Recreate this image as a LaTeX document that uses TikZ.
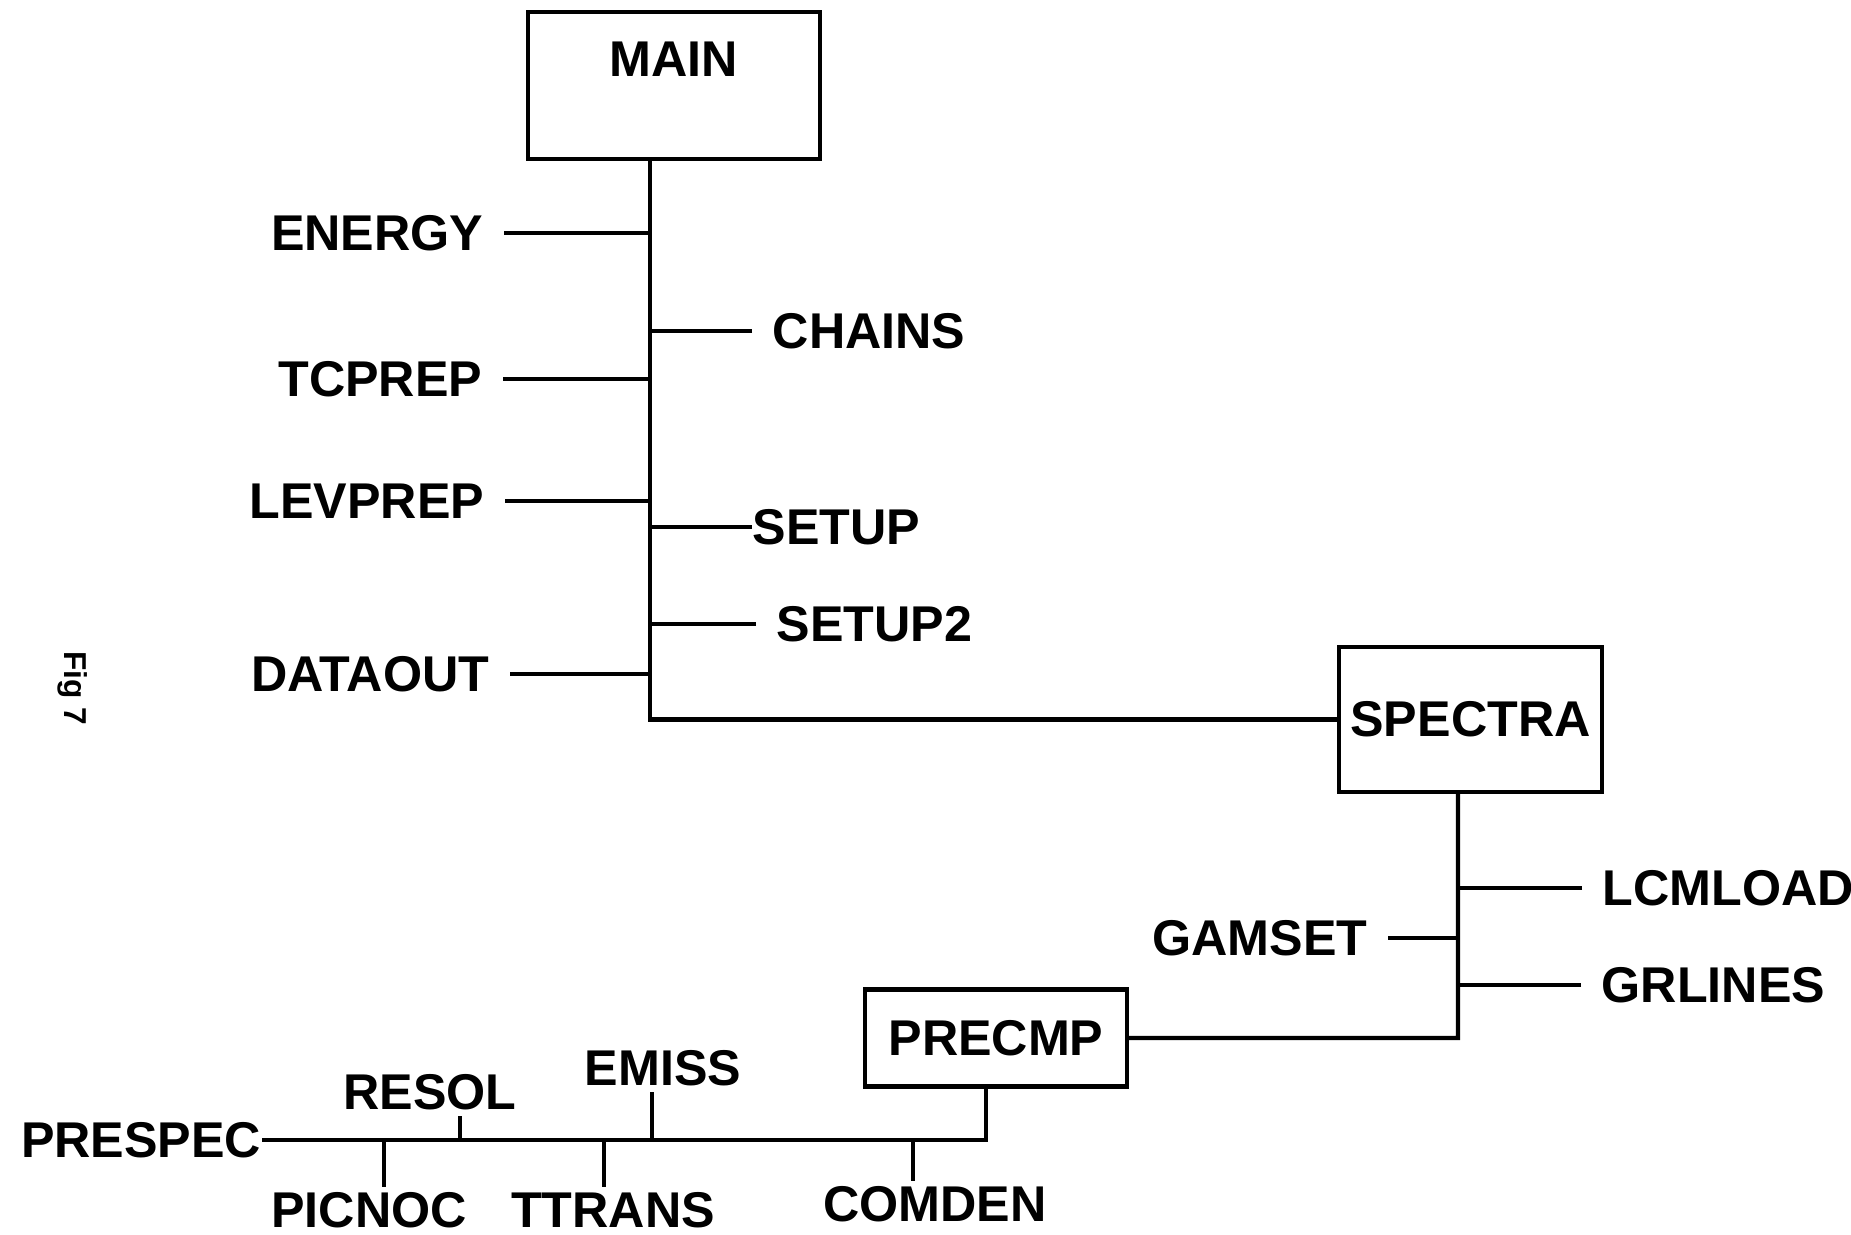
\documentclass[tikz,border=0pt]{standalone}
\usepackage{fontspec}
\setmainfont{Liberation Sans}
\usetikzlibrary{positioning, calc}

\begin{document}
\begin{tikzpicture}[
  routine/.style={rectangle, draw=black, line width=1.2pt, align=center, font=\fontsize{14.3}{16}\selectfont\bfseries},
  sub/.style={inner xsep=2mm, inner ysep=0.5mm, font=\fontsize{14.3}{16}\selectfont\bfseries},
  link/.style={line width=1.2pt}
]
  \useasboundingbox (0,0) rectangle (18.51,-12.34);

  \node[routine, minimum width=2.92cm, minimum height=1.47cm, text depth=0.52cm] (main) at (6.74,-0.855) {MAIN};
  \node[routine, minimum width=2.61cm, minimum height=1.45cm] (spectra) at (14.705,-7.195) {SPECTRA};
  \node[routine, minimum width=2.62cm, minimum height=0.97cm] (precmp) at (9.96,-10.38) {PRECMP};

  \coordinate (mtop) at ($(main.south)+(-0.24,0)$);
  \coordinate (jE) at (6.50,-2.33);
  \coordinate (jC) at (6.50,-3.31);
  \coordinate (jT) at (6.50,-3.79);
  \coordinate (jL) at (6.50,-5.01);
  \coordinate (jS) at (6.50,-5.27);
  \coordinate (jS2) at (6.50,-6.24);
  \coordinate (jD) at (6.50,-6.74);
  \coordinate (jB) at (6.50,-7.195);

  \node[sub, left=1.46cm of jE] (energy) {ENERGY};
  \node[sub, right=1.02cm of jC] (chains) {CHAINS};
  \node[sub, left=1.47cm of jT] (tcprep) {TCPREP};
  \node[sub, left=1.45cm of jL] (levprep) {LEVPREP};
  \node[sub, inner xsep=0pt, right=1.02cm of jS] (setup) {SETUP};
  \node[sub, right=1.06cm of jS2] (setup2) {SETUP2};
  \node[sub, left=1.40cm of jD] (dataout) {DATAOUT};

  \coordinate (stop) at ($(spectra.south)+(-0.125,0)$);
  \coordinate (kL) at (14.58,-8.88);
  \coordinate (kG) at (14.58,-9.38);
  \coordinate (kR) at (14.58,-9.85);
  \coordinate (kP) at (14.58,-10.38);

  \node[sub, right=1.24cm of kL] (lcmload) {LCMLOAD};
  \node[sub, left=0.70cm of kG] (gamset) {GAMSET};
  \node[sub, right=1.23cm of kR] (grlines) {GRLINES};

  \coordinate (ptop) at ($(precmp.south)+(-0.10,0)$);
  \coordinate (bQ) at (9.86,-11.40);
  \coordinate (bR) at (4.60,-11.40);
  \coordinate (bE) at (6.52,-11.40);
  \coordinate (bP) at (3.84,-11.40);
  \coordinate (bT) at (6.04,-11.40);
  \coordinate (bC) at (9.13,-11.40);

  \node[sub, inner xsep=0pt, anchor=east] (prespec) at (2.62,-11.40) {PRESPEC};
  \node[sub] (resol) at (4.30,-10.92) {RESOL};
  \node[sub] (emiss) at (6.63,-10.68) {EMISS};
  \node[sub] (picnoc) at (3.69,-12.10) {PICNOC};
  \node[sub] (ttrans) at (6.13,-12.10) {TTRANS};
  \node[sub] (comden) at (9.35,-12.04) {COMDEN};

  \node[rotate=-90, font=\fontsize{9}{10}\selectfont\bfseries] (fig) at (0.73,-6.88) {Fig 7};

  \draw[link] (mtop) -- (jB) -- (spectra.west);
  \draw[link] (energy.east) -- (jE);
  \draw[link] (chains.west) -- (jC);
  \draw[link] (tcprep.east) -- (jT);
  \draw[link] (levprep.east) -- (jL);
  \draw[link] (setup.west) -- (jS);
  \draw[link] (setup2.west) -- (jS2);
  \draw[link] (dataout.east) -- (jD);

  \draw[link] (stop) -- (kP) -- (precmp.east);
  \draw[link] (lcmload.west) -- (kL);
  \draw[link] (gamset.east) -- (kG);
  \draw[link] (grlines.west) -- (kR);

  \draw[link] (ptop) -- (bQ) -- (prespec.east);
  \draw[link] (bR) -- (bR |- resol.south);
  \draw[link] (bE) -- (bE |- emiss.south);
  \draw[link] (bP) -- (bP |- picnoc.north);
  \draw[link] (bT) -- (bT |- ttrans.north);
  \draw[link] (bC) -- (bC |- comden.north);
\end{tikzpicture}
\end{document}
